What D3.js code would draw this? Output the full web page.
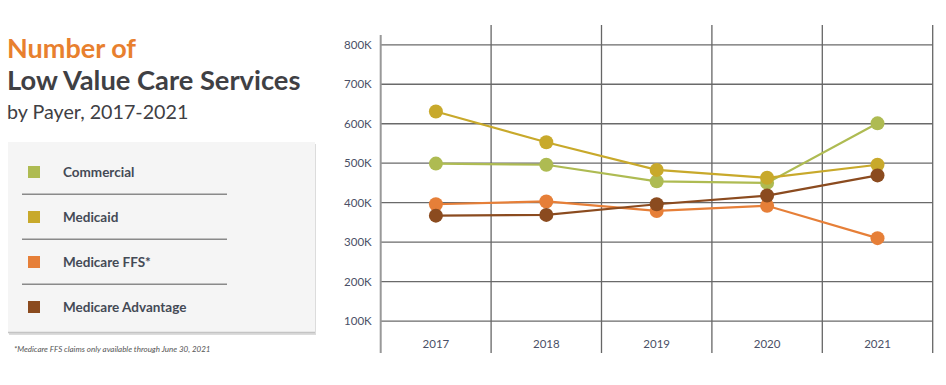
<!DOCTYPE html>
<html>
<head>
<meta charset="utf-8">
<script src="https://cdn.jsdelivr.net/npm/d3@7"></script>
<style>
  body { margin: 0; background: #fff; font-family: Lato, "Open Sans", sans-serif; }
  svg { display: block; }
</style>
</head>
<body>
<div id="chart"></div>
<script>
// Low value care services by payer

let years = ['2017', '2018', '2019', '2020', '2021'];
let series_names = ['Commercial', 'Medicaid', 'Medicare FFS*', 'Medicare Advantage'];
let commercial = [499000, 496000, 454000, 450000, 601000];
let medicaid = [631000, 553000, 483000, 463000, 496000];
let medicare_ffs = [396000, 403000, 379000, 392000, 310000];
let medicare_adv = [367000, 369000, 396000, 418000, 469000];
let y_ticks = [100000, 200000, 300000, 400000, 500000, 600000, 700000, 800000];
let colors = ['#AEBB52', '#C8A92B', '#E67F38', '#8B4B1F'];

let series = [commercial, medicaid, medicare_ffs, medicare_adv];

let width = 946;
let height = 385;

let svg = d3.select('#chart')
    .append('svg')
    .attr('width', width)
    .attr('height', height);

// Titles
svg.append('text')
    .attr('x', 7).attr('y', 58)
    .attr('font-size', 27).attr('font-weight', 700)
    .attr('fill', '#E8802E')
    .text('Number of');
svg.append('text')
    .attr('x', 7).attr('y', 90)
    .attr('font-size', 27.3).attr('font-weight', 700)
    .attr('fill', '#3f4044')
    .text('Low Value Care Services');
svg.append('text')
    .attr('x', 7).attr('y', 118.5)
    .attr('font-size', 19.7)
    .attr('fill', '#3f4044')
    .text('by Payer, 2017-2021');

// Legend box
svg.append('rect')
    .attr('x', 9).attr('y', 144).attr('width', 307).attr('height', 191)
    .attr('fill', '#dcdcdc');
svg.append('rect')
    .attr('x', 8).attr('y', 142).attr('width', 307).attr('height', 191)
    .attr('fill', '#f5f5f5');
svg.append('line')
    .attr('x1', 8).attr('x2', 315).attr('y1', 332.5).attr('y2', 332.5)
    .attr('stroke', '#c4c4c4').attr('stroke-width', 1.5);

let legend_y = d3.scalePoint()
    .domain(series_names)
    .range([172, 307]);

let legend = svg.append('g').selectAll('g')
    .data(series_names)
    .enter()
    .append('g')
    .attr('transform', d => 'translate(0,' + legend_y(d) + ')');

legend.append('rect')
    .attr('x', 28).attr('y', -6).attr('width', 12).attr('height', 12)
    .attr('fill', (d, i) => colors[i]);

legend.append('text')
    .attr('x', 63).attr('y', 5)
    .attr('font-size', 13.5).attr('font-weight', 700)
    .attr('fill', '#444a55')
    .text(d => d);

legend.filter((d, i) => i < series_names.length - 1)
    .append('line')
    .attr('x1', 22).attr('x2', 227)
    .attr('y1', 22.3).attr('y2', 22.3)
    .attr('stroke', '#8a8a8a').attr('stroke-width', 1.5);

svg.append('text')
    .attr('x', 14).attr('y', 352)
    .attr('font-size', 8).attr('font-style', 'italic')
    .attr('fill', '#555')
    .text('*Medicare FFS claims only available through June 30, 2021');

// Scales
let x_scale = d3.scaleBand()
    .domain(years)
    .range([380.7, 932.7])
    .padding(0);

let y_scale = d3.scaleLinear()
    .domain([0, 800000])
    .range([360.5, 44.8]);

// Horizontal gridlines
svg.append('g').selectAll('line')
    .data(y_ticks)
    .enter()
    .append('line')
    .attr('x1', 380.7).attr('x2', 932.7)
    .attr('y1', d => y_scale(d)).attr('y2', d => y_scale(d))
    .attr('stroke', '#6a6a6a').attr('stroke-width', 1.3);

// Vertical gridlines
let v_lines = years.map(d => x_scale(d)).concat([x_scale.range()[1]]);
svg.append('g').selectAll('line')
    .data(v_lines)
    .enter()
    .append('line')
    .attr('x1', d => d).attr('x2', d => d)
    .attr('y1', (d, i) => i === 0 ? 35 : 25).attr('y2', 353)
    .attr('stroke', (d, i) => i === 0 ? '#999' : '#666')
    .attr('stroke-width', (d, i) => i === 0 ? 2 : 1.3);

// Axes labels
let y_axis = d3.axisLeft(y_scale)
    .tickValues(y_ticks)
    .tickSize(0)
    .tickPadding(9)
    .tickFormat(d => (d / 1000) + 'K');
svg.append('g')
    .attr('class', 'y-axis')
    .attr('transform', 'translate(380.7,0)')
    .call(y_axis)
    .call(g => g.select('.domain').remove())
    .selectAll('text')
    .attr('font-family', 'Lato, sans-serif')
    .attr('font-size', 11.5)
    .attr('fill', '#4a5066');

let x_axis = d3.axisBottom(x_scale)
    .tickSize(0)
    .tickPadding(0);
svg.append('g')
    .attr('class', 'x-axis')
    .attr('transform', 'translate(0,340)')
    .call(x_axis)
    .call(g => g.select('.domain').remove())
    .selectAll('text')
    .attr('font-family', 'Lato, sans-serif')
    .attr('font-size', 11.5)
    .attr('fill', '#4a5066');

// Lines and points
let line = d3.line()
    .x((d, i) => x_scale(years[i]) + x_scale.bandwidth() / 2)
    .y(d => y_scale(d));

series.forEach((s, k) => {
    svg.append('path')
        .datum(s)
        .attr('d', line)
        .attr('fill', 'none')
        .attr('stroke', colors[k])
        .attr('stroke-width', 2.2);
});

series.forEach((s, k) => {
    svg.append('g').selectAll('circle')
        .data(s)
        .enter()
        .append('circle')
        .attr('cx', (d, i) => x_scale(years[i]) + x_scale.bandwidth() / 2)
        .attr('cy', d => y_scale(d))
        .attr('r', 7)
        .attr('fill', colors[k]);
});
</script>
</body>
</html>
